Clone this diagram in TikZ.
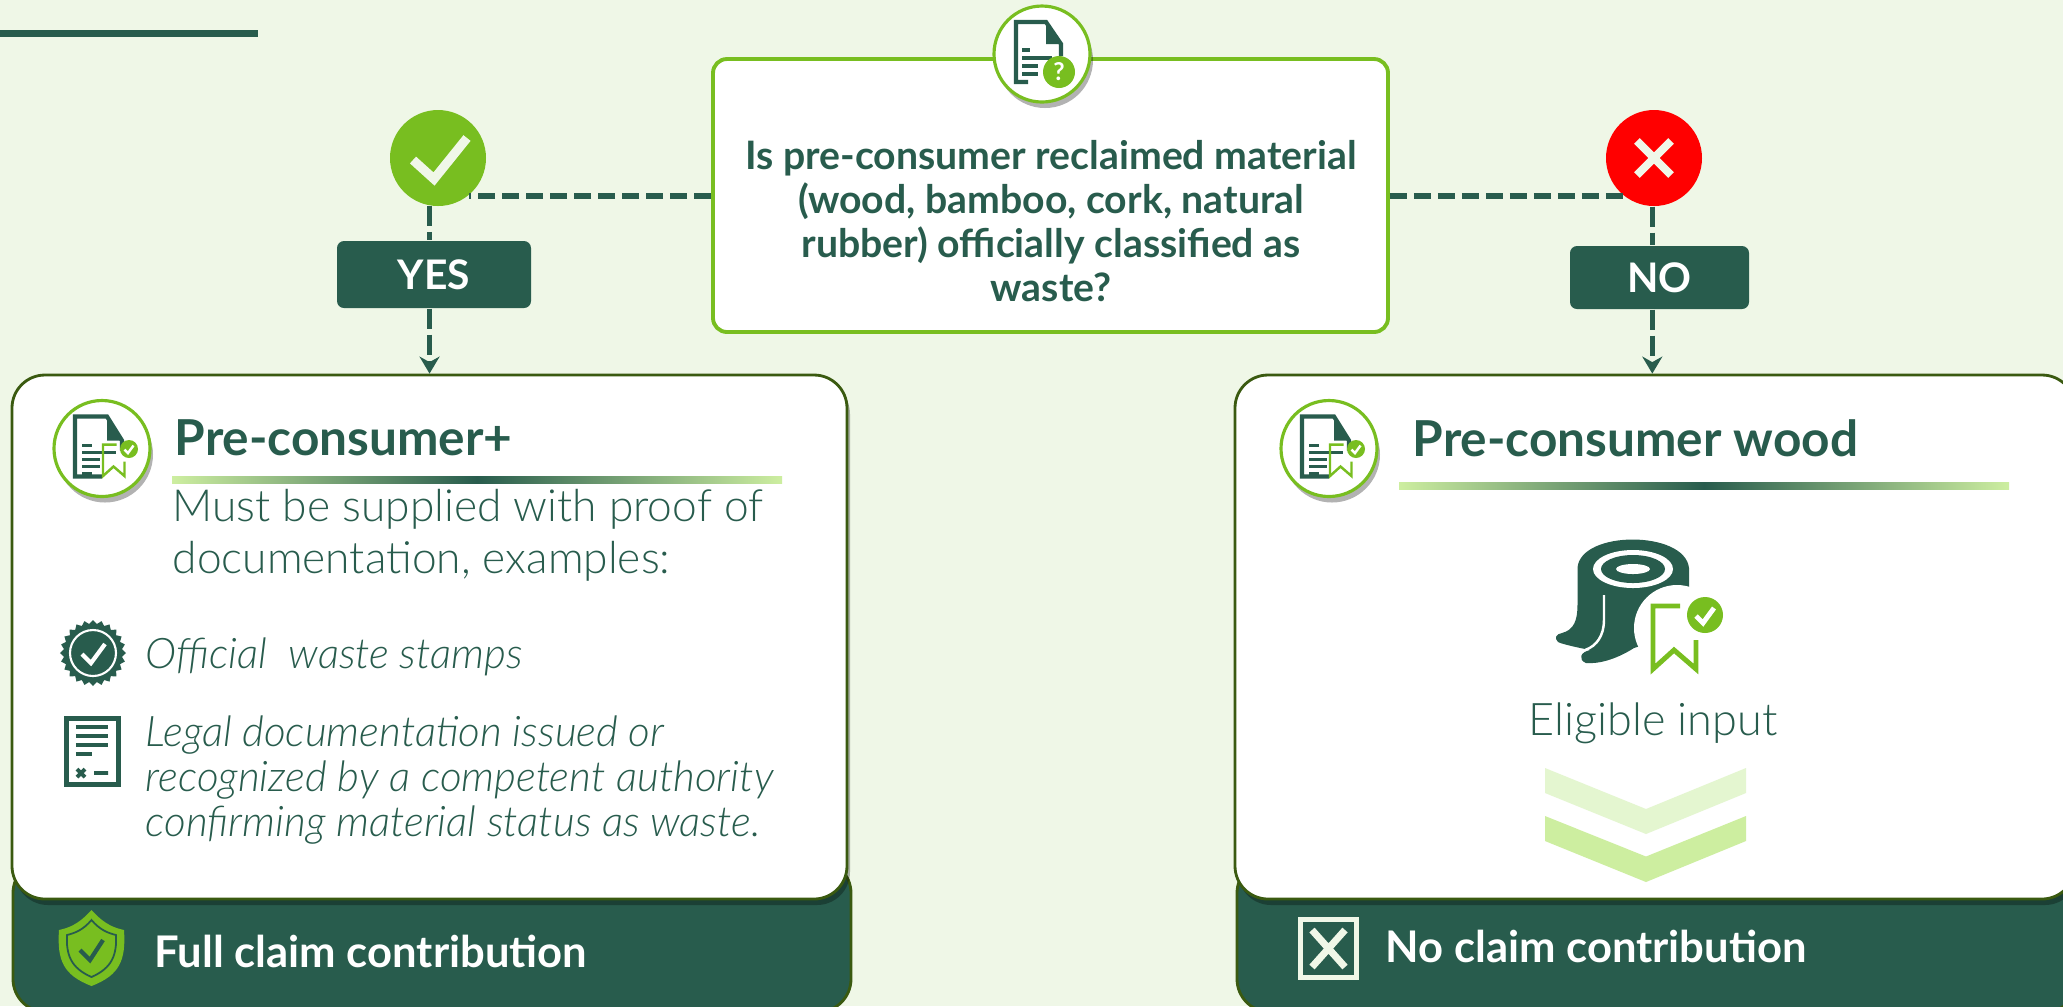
\documentclass[tikz,border=0pt]{standalone}
\usepackage{fontspec}
\setmainfont{Lato}
\newfontfamily\lightfont{Lato Light}
\usetikzlibrary{arrows.meta,calc,shadows,shapes.geometric,shapes.misc}
\definecolor{pagebg}{HTML}{EFF7E7}
\definecolor{pine}{HTML}{285C4D}
\definecolor{leaf}{HTML}{78BE20}
\definecolor{olive}{HTML}{3A5A10}
\definecolor{cream}{HTML}{F0F7E8}
\definecolor{palegreen}{HTML}{CDEEA0}
\definecolor{paleleaf}{HTML}{E4F6D0}
\tikzset{
    >={Stealth[length=.17cm,width=.2cm]},
    softshadow/.style={drop shadow={shadow xshift=.03cm,shadow yshift=-.06cm,fill=black,opacity=.3}},
    question/.style={draw=leaf,line width=1.1pt,fill=white,rounded corners=.14cm,minimum width=6.75cm,minimum height=2.73cm,inner sep=0pt},
    card/.style={draw=olive,line width=.8pt,fill=white,rounded corners=.33cm,inner sep=0pt,softshadow},
    footer/.style={draw=olive,line width=.8pt,fill=pine,rounded corners=.33cm,inner sep=0pt},
    iconring/.style={circle,draw=leaf,line width=.9pt,fill=white,minimum size=.96cm,inner sep=0pt,softshadow},
    verdict/.style={circle,minimum size=.96cm,inner sep=0pt},
    tag/.style={fill=pine,rounded corners=.07cm,inner sep=0pt,text=white,font=\fontsize{11.6}{13}\selectfont\bfseries},
    heading/.style={anchor=west,inner sep=0pt,text=pine,font=\fontsize{14.1}{16}\selectfont\bfseries},
    body/.style={anchor=north west,inner sep=0pt,align=left,text=pine,font=\fontsize{12.6}{14.8}\selectfont\lightfont},
    note/.style={anchor=north west,inner sep=0pt,align=left,text=pine,font=\fontsize{12}{12.8}\selectfont\lightfont\itshape},
    claim/.style={anchor=west,inner sep=0pt,text=white,font=\fontsize{12.4}{14}\selectfont\bfseries},
    rulebar/.style={minimum height=.07cm,inner sep=0pt,left color=palegreen,right color=palegreen,middle color=pine},
    joinline/.style={pine,line width=1.7pt,dash pattern=on .17cm off .07cm},
    dropline/.style={pine,line width=1.5pt,dash pattern=on .2cm off .06cm},
    ribbonbadge/.pic={
        \draw[leaf,pic actions] (.27,0) -- (0,0) -- (0,-.63) -- (.21,-.44) -- (.43,-.63) -- (.43,-.34);
        \fill[leaf] (.52,-.09) circle (.18);
        \draw[white,pic actions] (.43,-.1) -- (.5,-.17) -- (.61,-.02);
    },
    claimdoc/.pic={
        \draw[pine,line width=1.2pt,line join=miter] (0,-.28) -- (-.27,-.28) -- (-.27,.32) -- (.05,.32) -- (.2,.08) -- (.2,-.02);
        \fill[pine] (.05,.32) -- (.05,.08) -- (.2,.08) -- cycle;
        \foreach \yy/\xx in {.03/-.1,-.04/.14,-.11/-.02,-.18/-.02,-.25/-.1}
            \draw[pine,line width=1pt] (-.2,\yy) -- (\xx,\yy);
        \pic[line width=.7pt,scale=.5] at (.01,.04) {ribbonbadge};
    },
}
\begin{document}
\begin{tikzpicture}
    \useasboundingbox (0,0) rectangle (20.63,-10.06);
    \clip (0,0) rectangle (20.63,-10.06);
    \fill[pagebg] (0,0) rectangle (20.63,-10.06);
    \node[fill=pine,minimum width=2.58cm,minimum height=.07cm,inner sep=0pt] (topbar) at (1.29,-.33) {};

    % question
    \node[question] (ask) at (10.505,-1.955) {};
    \node[align=center,inner sep=0pt,text=pine,font=\fontsize{11.15}{12.5}\selectfont\bfseries] (asktext) at (10.51,-2.21)
        {Is pre-consumer reclaimed material\\(wood, bamboo, cork, natural\\rubber) officially classified as\\waste?};
    \node[iconring] (askicon) at (10.42,-.54) {};
    \draw[pine,line width=1.2pt] (10.28,-.82) -- (10.16,-.82) -- (10.16,-.22) -- (10.46,-.22) -- (10.61,-.44) -- (10.61,-.56);
    \fill[pine] (10.46,-.22) -- (10.46,-.44) -- (10.61,-.44) -- cycle;
    \foreach \yy/\xx in {.5/10.3,.58/10.52,.66/10.38,.74/10.38}
        \draw[pine,line width=1pt] (10.22,-\yy) -- (\xx,-\yy);
    \node[circle,fill=leaf,minimum size=.32cm,inner sep=0pt,text=white,font=\fontsize{7}{8}\selectfont\bfseries] (askmark) at (10.59,-.72) {?};

    % verdicts
    \node[verdict,fill=leaf] (yes) at (4.38,-1.58) {};
    \draw[cream,line width=2.6pt] (4.13,-1.6) -- (4.34,-1.79) -- (4.67,-1.38);
    \node[verdict,fill=red] (no) at (16.54,-1.58) {};
    \node[cross out,draw=cream,line width=2.3pt,minimum size=.26cm,inner sep=0pt] (nomark) at (no) {};
    \node[tag,minimum width=1.94cm,minimum height=.67cm] (yestag) at (4.34,-2.745) {YES};
    \node[tag,minimum width=1.79cm,minimum height=.63cm] (notag) at (16.595,-2.775) {NO};

    % left card
    \node[footer,minimum width=8.38cm,minimum height=1.52cm] (leftfoot) at (4.32,-9.36) {};
    \node[card,minimum width=8.35cm,minimum height=5.24cm] (leftcard) at (4.295,-6.37) {};
    \node[iconring] (lefticon) at (1.02,-4.485) {};
    \pic at (lefticon) {claimdoc};
    \node[heading] (lefthead) at (1.74,-4.38) {Pre-consumer+};
    \node[rulebar,minimum width=6.1cm] (leftbar) at (4.77,-4.795) {};
    \node[body] (lefttext) at (1.72,-4.89) {Must be supplied with proof of\\documentation, examples:};
    \node[star,star points=24,star point ratio=1.13,fill=pine,minimum size=.66cm,inner sep=0pt] (seal) at (.93,-6.53) {};
    \node[circle,draw=white,line width=.6pt,minimum size=.46cm,inner sep=0pt] (sealring) at (seal) {};
    \draw[white,line width=1.2pt] (.82,-6.54) -- (.91,-6.63) -- (1.05,-6.44);
    \node[note] (stamps) at (1.45,-6.37) {Official\ \ waste stamps};
    \node[draw=pine,line width=1.3pt,fill=white,minimum width=.52cm,minimum height=.66cm,inner sep=0pt] (legaldoc) at (.925,-7.515) {};
    \foreach \yy/\xx in {7.27/1.08,7.36/1.08,7.45/1.08,7.54/.92}
        \draw[pine,line width=1.1pt] (.76,-\yy) -- (\xx,-\yy);
    \draw[pine,line width=1.1pt] (.77,-7.69) -- (.85,-7.77) (.77,-7.77) -- (.85,-7.69) (.94,-7.73) -- (1.08,-7.73);
    \node[note] (legal) at (1.45,-7.15) {Legal documentation issued or\\recognized by a competent authority\\confirming material status as waste.};
    \fill[leaf] (.915,-9.1) .. controls (1.05,-9.25) and (1.15,-9.28) .. (1.24,-9.3) .. controls (1.26,-9.6) and (1.2,-9.75) .. (.915,-9.86)
        .. controls (.63,-9.75) and (.57,-9.6) .. (.59,-9.3) .. controls (.68,-9.28) and (.78,-9.25) .. (.915,-9.1) -- cycle;
    \draw[pine,line width=.5pt] (.915,-9.2) .. controls (1,-9.3) and (1.08,-9.33) .. (1.16,-9.35) .. controls (1.17,-9.55) and (1.12,-9.68) .. (.915,-9.77)
        .. controls (.71,-9.68) and (.66,-9.55) .. (.67,-9.35) .. controls (.75,-9.33) and (.83,-9.3) .. (.915,-9.2) -- cycle;
    \draw[pine,line width=1.2pt] (.8,-9.5) -- (.9,-9.6) -- (1.03,-9.4);
    \node[claim] (leftclaim) at (1.54,-9.51) {Full claim contribution};

    % right card
    \node[footer,minimum width=8.41cm,minimum height=1.52cm] (rightfoot) at (16.575,-9.36) {};
    \node[card,minimum width=8.4cm,minimum height=5.24cm] (rightcard) at (16.55,-6.37) {};
    \node[iconring] (righticon) at (13.29,-4.485) {};
    \pic at (righticon) {claimdoc};
    \node[heading] (righthead) at (14.12,-4.38) {Pre-consumer wood};
    \node[rulebar,minimum width=6.1cm] (rightbar) at (17.04,-4.86) {};

    % log
    \fill[pine] (15.775,-5.68) .. controls (15.8,-5.3) and (16.85,-5.3) .. (16.89,-5.68) -- (16.89,-6.3) -- (16.34,-6.48)
        .. controls (16.15,-6.6) and (15.98,-6.64) .. (15.86,-6.63) .. controls (15.78,-6.6) and (15.8,-6.52) .. (15.9,-6.5)
        .. controls (15.75,-6.47) and (15.62,-6.44) .. (15.58,-6.42) .. controls (15.54,-6.38) and (15.56,-6.34) .. (15.62,-6.33)
        .. controls (15.74,-6.3) and (15.775,-6.2) .. (15.775,-6.05) -- cycle;
    \fill[white] (16.33,-5.69) ellipse (.4 and .19);
    \fill[pine] (16.33,-5.69) ellipse (.32 and .14);
    \fill[white] (16.33,-5.69) ellipse (.17 and .05);
    \draw[white,line width=.7pt] (16.04,-5.95) -- (16.04,-6.2) .. controls (16.04,-6.35) and (15.97,-6.46) .. (15.85,-6.5);
    \fill[white] (16.77,-6.28) circle (.43);
    \pic[line width=1.4pt] at (16.53,-6.06) {ribbonbadge};
    \node[anchor=center,inner sep=0pt,text=pine,font=\fontsize{12.8}{14}\selectfont\lightfont] (eligible) at (16.53,-7.23) {Eligible input};
    \fill[paleleaf] (15.45,-7.68) -- (16.46,-8.09) -- (17.46,-7.68) -- (17.46,-7.93) -- (16.46,-8.34) -- (15.45,-7.93) -- cycle;
    \fill[palegreen] (15.45,-8.16) -- (16.46,-8.565) -- (17.46,-8.16) -- (17.46,-8.41) -- (16.46,-8.82) -- (15.45,-8.41) -- cycle;
    \node[draw=cream,line width=1.5pt,minimum width=.56cm,minimum height=.58cm,inner sep=0pt] (nobadge) at (13.285,-9.485) {};
    \node[cross out,draw=cream,line width=2pt,minimum width=.26cm,minimum height=.3cm,inner sep=0pt] (nobadgex) at (nobadge) {};
    \node[claim] (rightclaim) at (13.85,-9.46) {No claim contribution};

    % connectors
    \draw[joinline] (ask.west) -- (ask.west -| yes.-51);
    \draw[joinline] (ask.east) -- (ask.east -| no.231);
    \draw[dropline] (yes.-100) -- (yes.-100 |- yestag.north);
    \draw[dropline,->] (yes.-100 |- yestag.south) -- (yes.-100 |- leftcard.north);
    \draw[dropline] (no.-92) -- (no.-92 |- notag.north);
    \draw[dropline,->] (no.-92 |- notag.south) -- (no.-92 |- rightcard.north);
\end{tikzpicture}
\end{document}
